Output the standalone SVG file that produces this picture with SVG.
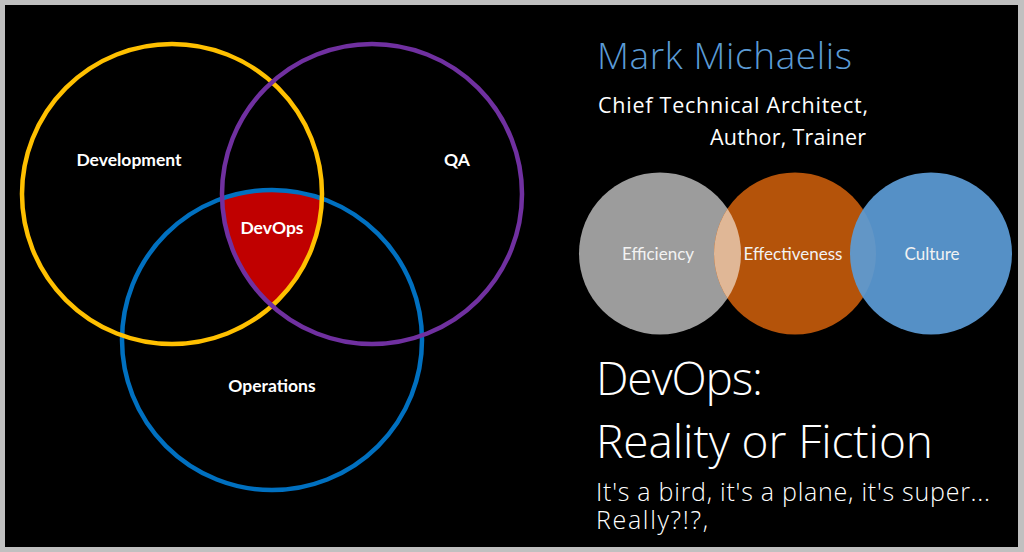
<svg xmlns="http://www.w3.org/2000/svg" width="1024" height="552" viewBox="0 0 1024 552">
<style>
.ring{fill:none;stroke-width:4.5}
.lbl{font-family:Lato,"Open Sans","Liberation Sans",sans-serif;font-weight:700;font-size:17.5px;fill:#ffffff;text-anchor:middle}
.pl{font-family:Lato,"Open Sans","Liberation Sans",sans-serif;font-weight:400;font-size:17px;fill:#f2f2f2;text-anchor:middle}
.t{font-family:"Open Sans",Lato,"Liberation Sans",sans-serif;fill:#ffffff}
.lt{font-weight:300}
</style>
<defs>
<clipPath id="cY"><circle cx="172" cy="194" r="150"/></clipPath>
<clipPath id="cP"><circle cx="372" cy="194" r="150"/></clipPath>
<clipPath id="cG"><circle cx="660" cy="253.5" r="81"/></clipPath>
</defs>
<rect x="0" y="0" width="1024" height="552" fill="#c0c0c0"/>
<rect x="5" y="5" width="1013" height="542" fill="#000000"/>

<g id="devops">
<g clip-path="url(#cY)"><circle cx="272" cy="340" r="150" fill="#c00000" clip-path="url(#cP)"/></g>
</g>
<g id="operations">
<circle class="ring" cx="272" cy="340" r="150" stroke="#0070c0"/>
</g>
<g id="development">
<circle class="ring" cx="172" cy="194" r="150" stroke="#ffc000"/>
</g>
<g id="qa">
<circle class="ring" cx="372" cy="194" r="150" stroke="#7030a0"/>
</g>
<g id="venn-labels">
<text class="lbl" x="129" y="166">Development</text>
<text class="lbl" x="457" y="166">QA</text>
<text class="lbl" x="272" y="234">DevOps</text>
<text class="lbl" x="272" y="392">Operations</text>
</g>

<g id="efficiency">
<circle cx="660" cy="253.5" r="81" fill="#9c9c9c"/>
</g>
<g id="effectiveness">
<circle cx="795" cy="253.5" r="81" fill="#b4530a"/>
<circle cx="795" cy="253.5" r="81" fill="#e0b796" clip-path="url(#cG)"/>
</g>
<g id="culture">
<circle cx="931" cy="253.5" r="81" fill="#5b9bd5" fill-opacity="0.93"/>
</g>
<g id="pillar-labels">
<text class="pl" x="658" y="260">Efficiency</text>
<text class="pl" x="793" y="260">Effectiveness</text>
<text class="pl" x="932" y="260">Culture</text>
</g>
<g id="connectors"/>

<g id="title">
<text class="t lt" x="597" y="69" font-size="37" textLength="255" style="fill:#5b9bd5">Mark Michaelis</text>
<text class="t" x="598" y="113" font-size="21.5" textLength="270">Chief Technical Architect,</text>
<text class="t" x="710" y="145" font-size="21.5" textLength="156">Author, Trainer</text>
<text class="t lt" x="596" y="395" font-size="46" textLength="167">DevOps:</text>
<text class="t lt" x="596" y="458" font-size="46" textLength="337">Reality or Fiction</text>
<text class="t lt" x="596" y="501" font-size="25" textLength="394">It's a bird, it's a plane, it's super...</text>
<text class="t lt" x="596" y="529" font-size="25" textLength="112">Really?!?,</text>
</g>
</svg>
